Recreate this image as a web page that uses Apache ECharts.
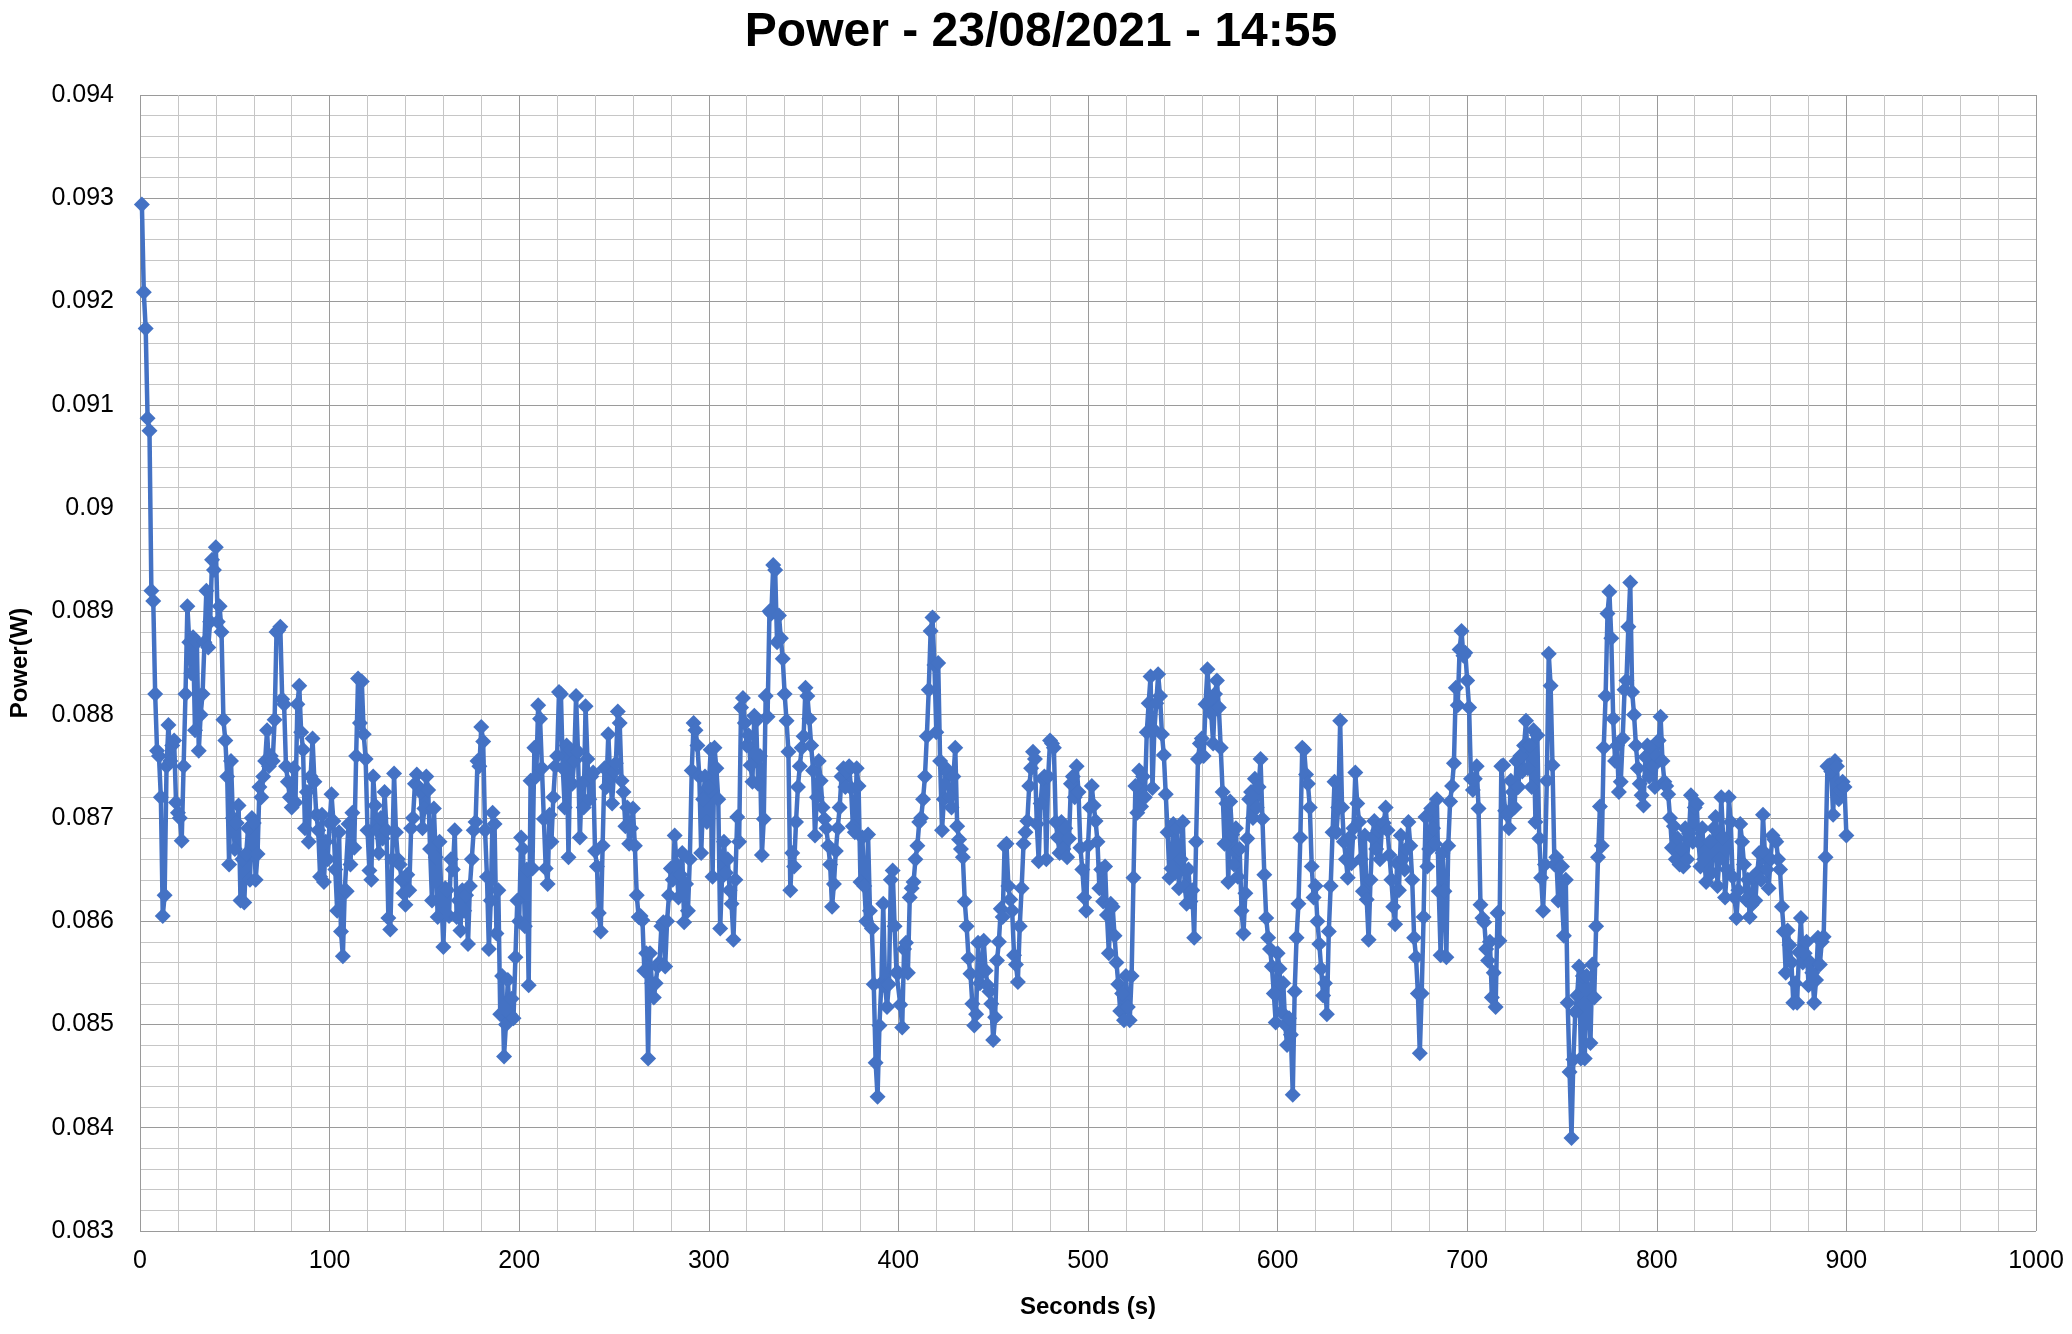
<!DOCTYPE html>
<html>
<head>
<meta charset="utf-8">
<script src="https://cdn.jsdelivr.net/npm/echarts@6/dist/echarts.min.js"></script>
<style>
html,body{margin:0;padding:0;background:#fff;}
#chart{width:2072px;height:1334px;}
</style>
</head>
<body>
<div id="chart"></div>
<script>
// Chart text
const chartTitle = "Power - 23/08/2021 - 14:55";
const xAxisName = "Seconds (s)";
const yAxisName = "Power(W)";

// Sampling: one reading per second, starting at 1 s
const firstSecond = 1;

// Power readings in milliwatts, one per second from 1 s to 900 s
const powerMilliwatt = [
92.94,92.09,91.74,90.87,90.75,89.20,89.10,88.20,87.65,87.60,
87.20,86.05,86.25,87.50,87.90,87.55,87.70,87.75,87.15,87.05,
87.00,86.78,87.50,88.20,89.05,88.70,88.40,88.75,87.85,88.70,
87.65,88.00,88.20,88.70,89.20,88.65,88.90,89.50,89.40,89.62,
88.90,89.05,88.80,87.95,87.75,87.40,86.55,87.55,87.00,86.70,
86.95,87.12,86.20,86.60,86.18,86.65,86.90,86.40,87.00,86.95,
86.40,86.65,87.30,87.20,87.40,87.55,87.85,87.50,87.60,87.55,
87.95,88.80,88.82,88.85,88.15,88.10,87.50,87.35,87.20,87.10,
87.48,87.15,88.10,88.28,87.83,87.66,86.90,87.25,86.77,87.40,
87.77,87.35,87.03,86.88,86.43,87.03,86.38,86.77,86.60,86.95,
87.23,86.97,86.50,86.10,86.86,85.90,85.66,86.30,86.29,86.94,
86.55,87.05,86.71,87.60,88.35,87.92,88.32,87.81,87.57,86.88,
86.49,86.40,87.40,87.12,86.88,86.66,87.00,86.80,87.25,86.88,
86.03,85.92,86.60,87.43,86.86,86.60,86.55,86.40,86.27,86.16,
86.45,86.30,86.90,87.00,87.33,87.42,87.30,87.25,86.90,87.09,
87.40,87.27,86.70,86.20,87.09,86.62,86.04,86.77,86.21,85.75,
86.32,86.30,86.05,86.60,86.50,86.88,86.04,86.20,85.91,86.30,
86.10,86.25,85.78,86.34,86.60,86.88,86.96,87.55,87.50,87.88,
87.74,86.88,86.43,85.73,86.20,87.05,86.94,85.88,86.30,85.10,
85.47,84.69,85.00,85.43,85.10,85.25,85.06,85.65,86.20,86.00,
86.81,86.70,85.95,86.50,85.38,87.36,86.51,87.68,87.40,88.09,
87.96,87.48,86.99,86.51,86.36,87.03,86.77,87.20,87.50,87.60,
88.22,88.20,87.48,87.10,87.70,86.62,87.66,87.33,87.55,88.18,
87.64,86.81,87.33,87.10,88.08,87.57,87.18,87.40,87.44,86.68,
86.53,86.08,85.90,86.73,87.48,87.30,87.81,87.40,87.14,87.45,
87.53,88.03,87.92,87.36,87.25,86.92,87.10,86.75,86.90,87.09,
86.73,86.25,86.04,86.05,86.01,85.52,85.69,84.67,85.69,85.40,
85.26,85.40,85.56,85.60,85.95,85.99,85.56,86.00,86.25,86.51,
86.40,86.83,86.55,86.23,86.45,86.66,85.99,86.36,86.10,86.60,
87.46,87.92,87.85,87.70,87.40,86.66,87.18,87.40,86.96,87.30,
87.66,86.43,87.68,87.48,87.18,85.93,86.43,86.77,86.47,86.60,
86.30,86.17,85.82,86.40,87.01,86.77,88.07,88.16,87.92,87.70,
87.80,87.51,87.35,87.99,87.94,87.33,87.60,86.64,86.99,88.18,
87.98,89.00,88.98,89.45,89.40,88.70,88.96,88.74,88.54,88.20,
87.94,87.64,86.30,86.66,86.53,86.96,87.30,87.50,87.68,87.79,
88.26,88.18,87.96,87.70,87.46,86.83,87.20,87.55,87.36,87.10,
86.99,86.90,86.73,86.55,86.14,86.36,86.68,86.90,87.10,87.40,
87.48,87.30,87.45,87.50,87.29,86.92,86.86,87.48,87.31,86.38,
86.81,86.34,86.00,86.84,86.10,85.93,85.39,84.63,84.30,84.99,
85.40,86.17,85.37,85.17,85.39,86.40,86.49,85.95,85.50,85.50,
85.19,84.97,85.73,85.79,85.50,86.23,86.32,86.38,86.60,86.73,
86.96,87.00,87.18,87.40,87.79,88.24,88.81,88.94,88.48,87.83,
88.50,87.55,86.88,87.18,87.48,87.44,87.20,87.10,87.40,87.68,
86.92,86.79,86.70,86.62,86.19,85.95,85.64,85.49,85.20,84.99,
85.10,85.79,85.40,85.50,85.81,85.52,85.38,85.32,85.20,84.85,
85.07,85.62,85.80,86.12,86.04,86.73,86.75,86.34,86.21,86.10,
85.67,85.58,85.41,85.95,86.32,86.75,86.86,86.97,87.31,87.48,
87.64,87.57,86.94,86.58,87.14,87.38,87.40,86.60,87.40,87.75,
87.72,87.68,86.96,86.81,86.66,86.96,86.70,86.90,86.62,86.80,
87.33,87.40,87.20,87.50,87.25,86.71,86.50,86.23,86.10,86.73,
87.10,87.31,87.12,86.97,86.77,86.32,86.50,86.19,86.53,86.06,
85.69,86.17,86.14,85.86,85.60,85.39,85.13,85.30,85.04,85.47,
85.17,85.04,85.47,86.42,87.31,87.05,87.46,87.11,87.40,87.20,
87.83,88.11,88.37,87.29,87.85,88.11,88.39,88.18,87.81,87.61,
87.23,86.86,86.42,86.51,86.94,86.47,86.90,86.32,86.60,86.96,
86.34,86.17,86.50,86.19,86.30,85.84,86.77,87.57,87.72,87.77,
87.60,88.10,88.44,88.14,88.01,87.72,88.20,88.33,88.07,87.68,
87.25,86.75,87.14,86.38,87.16,86.84,86.55,86.90,86.43,86.70,
86.10,85.88,86.27,86.80,87.18,87.25,87.00,87.38,87.10,87.30,
87.57,86.99,86.45,86.03,85.84,85.73,85.56,85.30,85.02,85.69,
85.54,85.12,85.40,85.00,84.80,85.06,84.90,84.32,85.32,85.84,
86.17,86.81,87.68,87.66,87.42,87.33,87.10,86.53,86.23,86.34,
86.00,85.78,85.54,85.28,85.40,85.10,85.90,86.34,86.86,87.35,
86.86,87.10,87.94,87.10,86.77,86.60,86.42,86.81,86.56,86.90,
87.44,87.14,86.96,86.60,86.29,86.83,86.21,85.82,86.40,86.81,
86.97,86.70,86.88,86.60,86.90,86.95,87.10,86.88,86.64,86.40,
86.14,85.97,86.56,86.30,86.83,86.60,86.50,86.70,86.96,86.73,
86.40,85.84,85.65,85.30,84.72,85.30,86.04,87.01,86.53,86.70,
87.09,86.90,86.75,87.18,86.29,85.67,86.66,86.29,85.65,86.73,
87.16,87.31,87.53,88.26,88.09,88.63,88.81,88.57,88.60,88.33,
88.07,87.38,87.27,87.38,87.50,87.09,86.16,86.03,85.99,85.73,
85.62,85.80,85.26,85.50,85.17,86.08,85.81,87.50,87.51,87.07,
87.03,86.90,87.36,87.25,87.10,87.55,87.30,87.60,87.45,87.70,
87.94,87.48,87.70,87.30,87.85,86.96,87.80,86.80,86.42,86.10,
86.55,87.36,88.59,88.28,87.51,86.55,86.62,86.20,86.53,86.53,
85.86,86.40,85.21,84.54,83.90,84.66,85.12,85.28,85.56,84.67,
85.47,84.67,85.47,85.30,84.82,85.58,85.26,85.95,86.62,87.11,
86.73,87.68,88.18,88.98,89.19,88.74,87.96,87.55,87.70,87.25,
87.35,87.77,88.24,88.33,88.85,89.28,88.22,88.00,87.70,87.48,
87.33,87.22,87.12,87.59,87.70,87.40,87.68,87.50,87.30,87.60,
87.75,87.98,87.55,87.35,87.31,87.23,87.00,86.71,86.92,86.60,
86.80,86.55,86.70,86.53,86.90,86.60,86.85,87.22,86.77,87.10,
87.14,86.77,86.53,86.90,86.60,86.38,86.70,86.77,86.47,86.90,
87.01,86.34,86.60,87.20,86.81,86.23,86.50,87.20,86.96,86.43,
86.23,86.03,86.30,86.94,86.77,86.55,86.21,86.40,86.04,86.16,
86.43,86.20,86.47,86.66,86.40,87.03,86.66,86.50,86.32,86.60,
86.83,86.79,86.77,86.60,86.50,86.14,85.90,85.50,85.91,85.77,
85.60,85.21,85.40,85.21,85.70,86.03,85.60,85.69,85.80,85.38,
85.60,85.50,85.21,85.43,85.84,85.58,85.80,85.85,86.62,87.50,
87.51,87.45,87.03,87.55,87.50,87.18,87.27,87.35,87.30,86.83
];

// Axis ranges / ticks
const xMin = 0, xMax = 1000, xStep = 100;
const yMin = 0.083, yMax = 0.094, yStep = 0.001;

const seriesData = powerMilliwatt.map((mw, i) => [firstSecond + i, mw / 1000]);

const chart = echarts.init(document.getElementById('chart'), null, {renderer: 'canvas'});
const fontFam = '"Liberation Sans", Arial, sans-serif';
chart.setOption({
  animation: false,
  backgroundColor: '#ffffff',
  title: {
    text: chartTitle,
    left: 1036, textAlign: 'center', top: 4,
    textStyle: {fontFamily: fontFam, fontSize: 48, fontWeight: 'bold', color: '#000'}
  },
  grid: {left: 138, right: 36, top: 95, bottom: 103, containLabel: false},
  xAxis: {
    type: 'value', min: xMin, max: xMax, interval: xStep,
    name: xAxisName, nameLocation: 'middle', nameGap: 64,
    nameTextStyle: {fontFamily: fontFam, fontSize: 24, fontWeight: 'bold', color: '#000'},
    axisLine: {show: false}, axisTick: {show: false},
    axisLabel: {fontFamily: fontFam, fontSize: 25, color: '#000', margin: 18,
      formatter: v => String(Math.round(v))},
    splitLine: {show: true, lineStyle: {color: '#9a9a9a', width: 1}},
    minorTick: {show: false, splitNumber: 5},
    minorSplitLine: {show: true, lineStyle: {color: '#c6c6c6', width: 1}}
  },
  yAxis: {
    type: 'value', min: yMin, max: yMax, interval: yStep,
    name: yAxisName, nameLocation: 'middle', nameGap: 108, nameRotate: 90,
    nameTextStyle: {fontFamily: fontFam, fontSize: 24, fontWeight: 'bold', color: '#000'},
    axisLine: {show: false}, axisTick: {show: false},
    axisLabel: {fontFamily: fontFam, fontSize: 25, color: '#000', margin: 26,
      formatter: v => String(+v.toFixed(4))},
    splitLine: {show: true, lineStyle: {color: '#9a9a9a', width: 1}},
    minorTick: {show: false, splitNumber: 5},
    minorSplitLine: {show: true, lineStyle: {color: '#c6c6c6', width: 1}}
  },
  series: [{
    type: 'line',
    data: seriesData,
    symbol: 'diamond',
    symbolSize: 16,
    showAllSymbol: true,
    lineStyle: {color: '#4472C4', width: 4.5},
    itemStyle: {color: '#4472C4', borderWidth: 0},
    emphasis: {disabled: true}
  }]
});
</script>
</body>
</html>
